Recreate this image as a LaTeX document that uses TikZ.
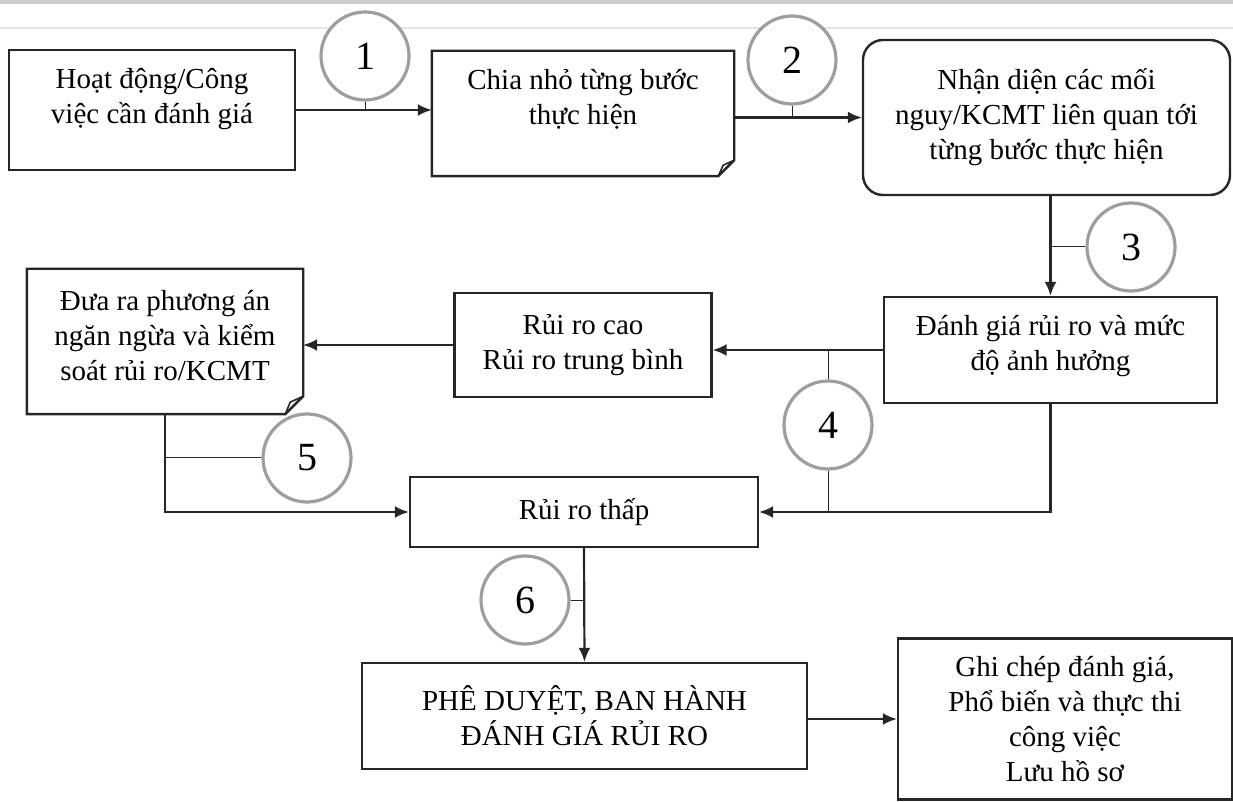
\documentclass[tikz,border=0pt]{standalone}
\usepackage{fontspec}
\setmainfont{Liberation Serif}
\usetikzlibrary{calc,arrows.meta}
\newcommand{\lift}[1]{\rule[-#1]{0pt}{#1}}

\begin{document}
\begin{tikzpicture}[x=0.5pt,y=-0.5pt,
  hop/.style={draw=black!85,line width=1.2pt,fill=white,align=center,inner sep=0pt,
    font=\fontsize{14.5}{17.5}\selectfont},
  so/.style={circle,draw=black!38,line width=1.6pt,fill=white,minimum size=44pt,inner sep=0pt,
    font=\fontsize{20}{20}\selectfont},
  muiten/.style={line width=1.1pt,black!85,-{Latex[length=7pt,width=6pt]}},
  gach/.style={line width=0.5pt,black!85}]
\useasboundingbox (0,0) rectangle (1233,802);
\fill[black!20] (0,0) rectangle (1233,4);
\draw[black!10,line width=1pt] (0,28) -- (1233,28);

% hang tren
\node[hop,minimum width=143pt,minimum height=60pt](a)at(152,110){Hoạt động/Công\\việc cần đánh giá\lift{14.5pt}};
\node[hop,draw=none,minimum width=150pt,minimum height=61.5pt](b)at(583,113.5){Chia nhỏ từng bước\\thực hiện\lift{16.5pt}};
\draw[black!85,line width=1.2pt](b.north west)--(b.north east)--($(b.south east)+(0,-16)$)--($(b.south east)+(-16,0)$)--(b.south west)--cycle;
\draw[black!85,line width=0.8pt]($(b.south east)+(0,-16)$)--($(b.south east)+(-11,-11)$)--($(b.south east)+(-16,0)$);
\node[hop,rounded corners=10pt,minimum width=183.5pt,minimum height=77.5pt](c)at(1046.5,117.5){Nhận diện các mối\\nguy/KCMT liên quan tới\\từng bước thực hiện};

% hang giua
\node[hop,minimum width=166.5pt,minimum height=53pt](d)at(1050.5,350){Đánh giá rủi ro và mức\\độ ảnh hưởng\lift{7pt}};
\node[hop,minimum width=128.5pt,minimum height=52pt](e)at(583,345){Rủi ro cao\\Rủi ro trung bình};
\node[hop,draw=none,minimum width=137pt,minimum height=71.5pt](f)at(165,341.5){Đưa ra phương án\\ngăn ngừa và kiểm\\soát rủi ro/KCMT\lift{6pt}};
\draw[black!85,line width=1.2pt](f.north west)--(f.north east)--($(f.south east)+(0,-18)$)--($(f.south east)+(-18,0)$)--(f.south west)--cycle;
\draw[black!85,line width=0.8pt]($(f.south east)+(0,-18)$)--($(f.south east)+(-13,-12)$)--($(f.south east)+(-18,0)$);
\node[hop,minimum width=174pt,minimum height=35pt](g)at(584,512){Rủi ro thấp};

% hang duoi
\node[hop,minimum width=222.5pt,minimum height=53pt](h)at(584.5,716){PHÊ DUYỆT, BAN HÀNH\\ĐÁNH GIÁ RỦI RO};
\node[hop,minimum width=167pt,minimum height=80.5pt](i)at(1065,719){Ghi chép đánh giá,\\Phổ biến và thực thi\\công việc\\Lưu hồ sơ};

% cac buoc
\node[so](n1)at(365,56){1};
\node[so](n2)at(792,60){2};
\node[so](n3)at(1131,247){3};
\node[so](n4)at(828,425){4};
\node[so](n5)at(307,458){5};
\node[so](n6)at(525,600){6};

% mui ten
\draw[muiten](a.east)--(a.east-|b.west);
\draw[muiten](b.east|-c.west)--(c.west);
\draw[muiten](d.north|-c.south)--(d.north);
\draw[muiten](d.west)--(d.west-|e.east);
\draw[muiten](e.west)--(e.west-|f.east);
\draw[muiten](d.south)--(d.south|-g.east)--(g.east);
\draw[muiten](f.south)--(f.south|-g.west)--(g.west);
\draw[muiten](g.south)--(h.north);
\draw[muiten](h.east|-i.west)--(i.west);

\draw[gach](n1.south)--(n1.south|-a.east);
\draw[gach](n2.south)--(n2.south|-c.west);
\draw[gach](n3.west)--(n3.west-|d.north);
\draw[gach](n4.north)--(n4.north|-d.west);
\draw[gach](n4.south)--(n4.south|-g.east);
\draw[gach](n5.west)--(n5.west-|f.south);
\draw[gach](n6.east)--(n6.east-|g.south);
\end{tikzpicture}
\end{document}
